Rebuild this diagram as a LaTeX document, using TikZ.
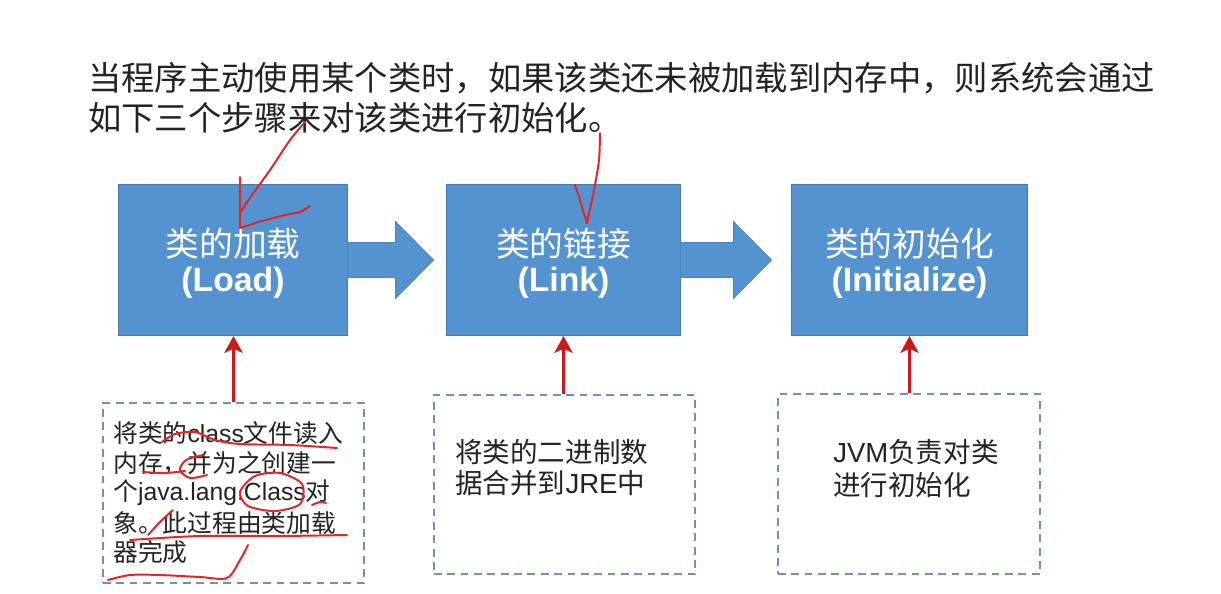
\documentclass[tikz,border=0pt]{standalone}
\usepackage{fontspec}
\setmainfont{Liberation Sans}
\newfontfamily\cjk{Noto Sans CJK SC}
\usetikzlibrary{arrows.meta,calc}
\definecolor{boxblue}{RGB}{84,146,208}
\definecolor{boxedge}{RGB}{72,122,178}
\definecolor{dashc}{RGB}{115,145,175}
\definecolor{redarr}{RGB}{205,25,25}
\definecolor{scrib}{RGB}{232,35,35}
\definecolor{txt}{RGB}{35,35,35}
\begin{document}
\begin{tikzpicture}[x=0.025cm,y=-0.025cm,
  stepbox/.style={draw=boxedge, fill=boxblue, line width=0.7pt, minimum height=3.775cm, inner sep=0pt},
  steptext/.style={text=white, font=\fontsize{24}{28}\selectfont, inner sep=0pt},
  notebox/.style={draw=dashc, line width=1.4pt, dash pattern=on 5.5pt off 4pt, inner sep=0pt, minimum width=6.525cm},
  smalltxt/.style={anchor=west, inner sep=0pt, text=txt, font=\fontsize{17.6}{20}\selectfont},
  midtxt/.style={anchor=west, inner sep=0pt, text=txt, font=\fontsize{19.6}{22}\selectfont},
  titletxt/.style={anchor=west, inner sep=0pt, text=txt, font=\fontsize{23.7}{26}\selectfont},
  blockarrow/.style={fill=boxblue, draw=boxblue!90!black, line width=0.5pt},
  redarrow/.style={draw=redarr, line width=2.2pt, -{Stealth[length=12pt,width=13pt,inset=3pt]}},
  scribble/.style={draw=scrib, line width=1.4pt, line cap=round, line join=round}
]
\useasboundingbox[fill=white] (0,0) rectangle (1221,593);

% title
\node[titletxt] (t1) at (88,78) {\cjk 当程序主动使用某个类时，如果该类还未被加载到内存中，则系统会通过};
\node[titletxt] (t2) at (88,118) {\cjk 如下三个步骤来对该类进行初始化。};

% step boxes
\node[stepbox, minimum width=5.7cm] (b1) at (233,260) {};
\node[stepbox, minimum width=5.825cm] (b2) at (563.5,260) {};
\node[stepbox, minimum width=5.875cm] (b3) at (909.5,260) {};

\node[steptext] (b1a) at (233,244) {\cjk 类的加载};
\node[steptext] (b1b) at (233,283) {\bfseries (Load)};
\node[steptext] (b2a) at (563.5,244) {\cjk 类的链接};
\node[steptext] (b2b) at (563.5,283) {\bfseries (Link)};
\node[steptext] (b3a) at (909.5,244) {\cjk 类的初始化};
\node[steptext] (b3b) at (909.5,283) {\bfseries (Initialize)};

% block arrows
\path[blockarrow] ($(b1.east)+(0,-17.5)$) -- ++(48,0) -- ++(0,-21) -- ($(b1.east)+(86,0)$)
  -- ($(b1.east)+(48,38.5)$) -- ++(0,-21) -- ($(b1.east)+(0,17.5)$) -- cycle;
\path[blockarrow] ($(b2.east)+(0,-17.5)$) -- ++(53,0) -- ++(0,-21) -- ($(b2.east)+(91,0)$)
  -- ($(b2.east)+(53,38.5)$) -- ++(0,-21) -- ($(b2.east)+(0,17.5)$) -- cycle;

% note boxes
\node[notebox, minimum height=4.5cm] (nA) at (233.5,493) {};
\node[notebox, minimum height=4.475cm] (nB) at (564.5,484.5) {};
\node[notebox, minimum height=4.5cm, minimum width=6.55cm] (nC) at (909,484) {};

\node[smalltxt] (a1) at (113,433) {{\cjk 将类的}class{\cjk 文件读入}};
\node[smalltxt] (a2) at (113,463) {\cjk 内存，并为之创建一};
\node[smalltxt] (a3) at (113,493) {{\cjk 个}java.lang.Class{\cjk 对}};
\node[smalltxt] (a4) at (113,523) {\cjk 象。此过程由类加载};
\node[smalltxt] (a5) at (113,552) {\cjk 器完成};

\node[midtxt] (bb1) at (455,452) {\cjk 将类的二进制数};
\node[midtxt] (bb2) at (455,483) {{\cjk 据合并到}JRE{\cjk 中}};

\node[midtxt] (c1) at (833,452) {JVM{\cjk 负责对类}};
\node[midtxt] (c2) at (833,485) {\cjk 进行初始化};

% red arrows
\draw[redarrow] (nA.north) -- (nA.north |- b1.south);
\draw[redarrow] (nB.north -| b2.south) -- (b2.south);
\draw[redarrow] (nC.north -| b3.south) -- (b3.south);

% hand-drawn annotations
\draw[scribble] plot[smooth] coordinates {(305,122) (290,140) (270,170) (252,195) (240,213)};
\draw[scribble] (240,177) -- (240,228);
\draw[scribble] plot[smooth] coordinates {(240,228) (262,221) (285,215) (300,212) (310,206)};
\draw[scribble] plot[smooth] coordinates {(600,133) (599,160) (594,190) (587,223)};
\draw[scribble] plot[smooth] coordinates {(575,185) (580,200) (584,214) (587,223)};

\draw[scribble] plot[smooth] coordinates {(162,442) (175,434) (195,432) (215,440) (240,444) (290,445) (337,448)};
\draw[scribble] plot[smooth] coordinates {(143,472) (165,473) (185,471)};
\draw[scribble] plot[smooth] coordinates {(203,455) (186,460) (180,470) (190,478) (207,475)};
\draw[scribble] plot[smooth cycle] coordinates {(240,492) (255,476) (280,473) (302,484) (300,504) (275,511) (248,506)};
\draw[scribble] plot[smooth] coordinates {(312,505) (320,502) (326,503)};
\draw[scribble] plot[smooth] coordinates {(173,510) (160,522) (148,535)};
\draw[scribble] plot[smooth] coordinates {(130,540) (200,536) (280,536) (347,535)};
\draw[scribble] plot[smooth] coordinates {(108,580) (130,575) (160,575) (200,577) (227,578) (240,560) (248,545)};
\end{tikzpicture}
\end{document}
